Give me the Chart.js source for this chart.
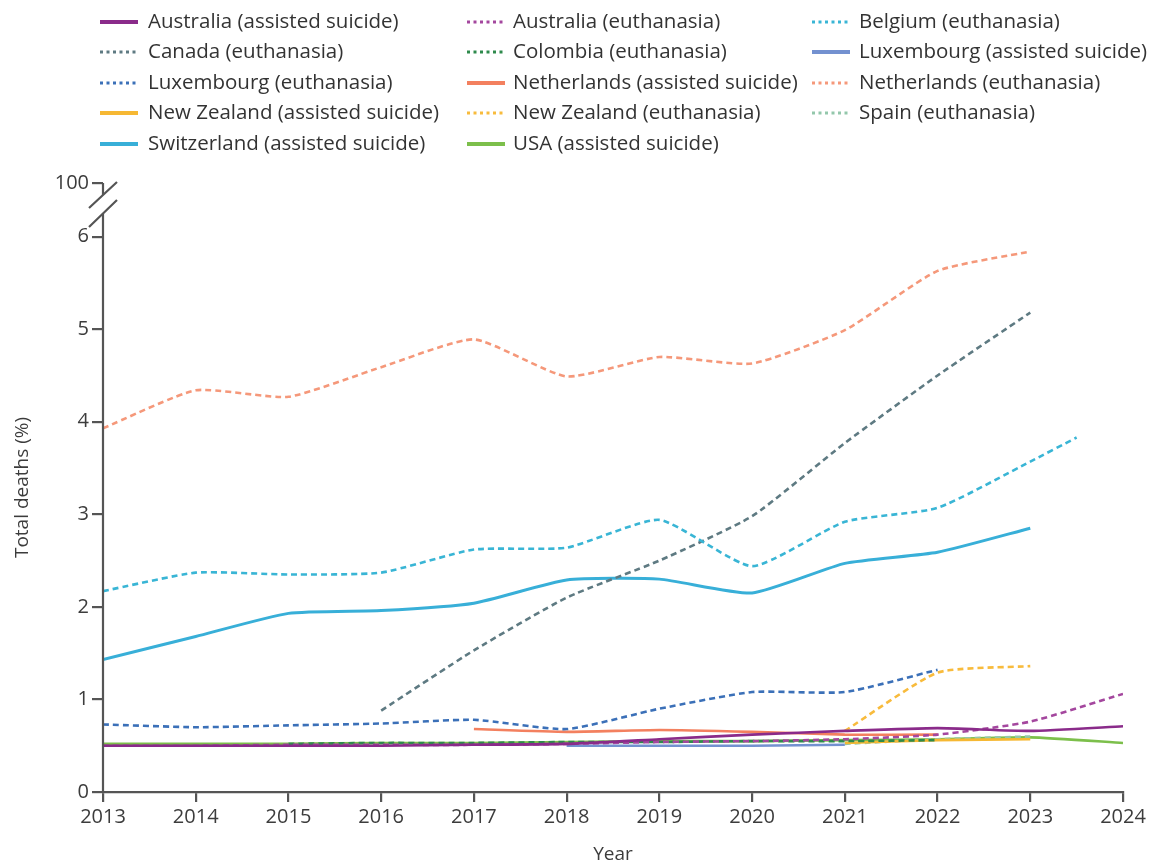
<!DOCTYPE html>
<html>
<head>
<meta charset="utf-8">
<script src="https://cdn.jsdelivr.net/npm/chart.js@4/dist/chart.umd.min.js"></script>
<style>
  html, body { margin: 0; padding: 0; background: #fff; }
  #wrap { width: 1152px; height: 863px; position: relative; }
</style>
</head>
<body>
<div id="wrap"><canvas id="chart"></canvas></div>
<script>
// Share of total deaths by assisted dying, by country and type (%)
const years = [2013, 2014, 2015, 2016, 2017, 2018, 2019, 2020, 2021, 2022, 2023, 2024];

const australiaAssisted = [0.50, 0.50, 0.50, 0.50, 0.51, 0.52, 0.57, 0.62, 0.66, 0.69, 0.66, 0.71];
const australiaEuthanasia = [0.50, 0.50, 0.51, 0.51, 0.51, 0.52, 0.54, 0.55, 0.57, 0.62, 0.76, 1.06];
const belgiumEuthanasia = [2.17, 2.37, 2.35, 2.37, 2.62, 2.64, 2.94, 2.44, 2.92, 3.07, 3.57, null];
const belgiumLatest = { year: 2023.5, value: 3.83 };
const canadaEuthanasia = [null, null, null, 0.88, 1.53, 2.10, 2.50, 2.98, 3.77, 4.50, 5.18, null];
const colombiaEuthanasia = [null, null, 0.52, 0.53, 0.53, 0.54, 0.54, 0.55, 0.55, 0.56, null, null];
const luxembourgAssisted = [null, null, null, null, null, 0.50, 0.50, 0.50, 0.51, null, null, null];
const luxembourgEuthanasia = [0.73, 0.70, 0.72, 0.74, 0.78, 0.68, 0.90, 1.08, 1.08, 1.32, null, null];
const netherlandsAssisted = [null, null, null, null, 0.68, 0.65, 0.67, 0.65, 0.62, 0.62, null, null];
const netherlandsEuthanasia = [3.93, 4.34, 4.27, 4.59, 4.89, 4.49, 4.70, 4.63, 4.99, 5.63, 5.84, null];
const newZealandAssisted = [null, null, null, null, null, null, null, null, 0.53, 0.56, 0.57, null];
const newZealandEuthanasia = [null, null, null, null, null, null, null, null, 0.66, 1.29, 1.36, null];
const spainEuthanasia = [null, null, null, null, null, null, null, null, 0.52, 0.57, 0.60, null];
const switzerlandAssisted = [1.43, 1.68, 1.93, 1.96, 2.04, 2.29, 2.30, 2.15, 2.47, 2.59, 2.85, null];
const usaAssisted = [0.52, 0.52, 0.52, 0.53, 0.53, 0.54, 0.55, 0.55, 0.56, 0.57, 0.59, 0.53];

const yTicks = [0, 1, 2, 3, 4, 5, 6];
const yBreakTick = 6.58;      // position on the axis standing for 100%
const yBreakLabel = '100';

function points(values) {
  return years.map((y, i) => ({ x: y, y: values[i] })).filter(p => p.y !== null);
}

const FONT = "'Open Sans', 'Liberation Sans', sans-serif";
const DASH = [6, 4];

function series(label, values, color, dashed, width) {
  return {
    label,
    data: values,
    borderColor: color,
    backgroundColor: color,
    borderWidth: width || 2.6,
    borderDash: dashed ? DASH : [],
    pointRadius: 0,
    pointHoverRadius: 0,
    tension: 0.18,
    fill: false,
    spanGaps: false
  };
}

const datasets = [
  series('Australia (assisted suicide)', points(australiaAssisted), '#8a2b8a', false),
  series('Australia (euthanasia)', points(australiaEuthanasia), '#a4479e', true),
  series('Belgium (euthanasia)', points(belgiumEuthanasia).concat([{ x: belgiumLatest.year, y: belgiumLatest.value }]), '#39b5d5', true),
  series('Canada (euthanasia)', points(canadaEuthanasia), '#5e7a82', true),
  series('Colombia (euthanasia)', points(colombiaEuthanasia), '#2e8a4c', true),
  series('Luxembourg (assisted suicide)', points(luxembourgAssisted), '#7391d0', false),
  series('Luxembourg (euthanasia)', points(luxembourgEuthanasia), '#3b70b8', true),
  series('Netherlands (assisted suicide)', points(netherlandsAssisted), '#f3805f', false),
  series('Netherlands (euthanasia)', points(netherlandsEuthanasia), '#f5987a', true),
  series('New Zealand (assisted suicide)', points(newZealandAssisted), '#f6b833', false),
  series('New Zealand (euthanasia)', points(newZealandEuthanasia), '#f8bb3c', true),
  series('Spain (euthanasia)', points(spainEuthanasia), '#93c7ab', true),
  series('Switzerland (assisted suicide)', points(switzerlandAssisted), '#38afd8', false, 3),
  series('USA (assisted suicide)', points(usaAssisted), '#7cbf4b', false)
];

// Three-column legend drawn above the plot
const gridLegend = {
  id: 'gridLegend',
  afterDraw(chart) {
    const ctx = chart.ctx;
    const sampleX = [100, 467, 812];
    const textX = [148, 513, 859];
    const rowY = [22, 52, 83, 113, 144];
    ctx.save();
    ctx.font = "20.5px " + FONT;
    ctx.textBaseline = 'middle';
    ctx.textAlign = 'left';
    chart.data.datasets.forEach((ds, i) => {
      const col = i % 3, row = Math.floor(i / 3);
      const y = rowY[row];
      ctx.strokeStyle = ds.borderColor;
      if (ds.borderDash && ds.borderDash.length) {
        ctx.lineWidth = 3;
        ctx.setLineDash([3, 3.5]);
      } else {
        ctx.lineWidth = 4;
        ctx.setLineDash([]);
      }
      ctx.beginPath();
      ctx.moveTo(sampleX[col], y);
      ctx.lineTo(sampleX[col] + 38, y);
      ctx.stroke();
      ctx.setLineDash([]);
      ctx.fillStyle = '#333';
      ctx.fillText(ds.label, textX[col], y);
    });
    ctx.restore();
  }
};

// Broken y axis: line up to the break, two slashes, short stub at 100
const brokenAxis = {
  id: 'brokenAxis',
  afterDraw(chart) {
    const ctx = chart.ctx;
    const ys = chart.scales.y;
    const x0 = chart.chartArea.left;
    const yTop = ys.getPixelForValue(yBreakTick);
    const y0 = ys.getPixelForValue(0);
    ctx.save();
    ctx.strokeStyle = '#555';
    ctx.lineWidth = 2.2;
    ctx.lineCap = 'butt';
    ctx.beginPath();
    ctx.moveTo(x0, y0 + 1);
    ctx.lineTo(x0, yTop + 31);
    ctx.moveTo(x0, yTop);
    ctx.lineTo(x0, yTop + 12);
    ctx.stroke();
    // slashes
    ctx.beginPath();
    ctx.moveTo(x0 - 14, yTop + 44);
    ctx.lineTo(x0 + 14, yTop + 17);
    ctx.moveTo(x0 - 14, yTop + 25);
    ctx.lineTo(x0 + 14, yTop - 1);
    ctx.stroke();
    ctx.restore();
  }
};

new Chart(document.getElementById('chart'), {
  type: 'line',
  data: { datasets },
  plugins: [gridLegend, brokenAxis],
  options: {
    responsive: true,
    maintainAspectRatio: false,
    animation: false,
    layout: { padding: { top: 183, right: 29, left: 0, bottom: 0 } },
    plugins: {
      legend: { display: false },
      tooltip: { enabled: false }
    },
    scales: {
      x: {
        type: 'linear',
        min: 2013,
        max: 2024,
        afterFit(scale) { scale.height = 71; },
        afterBuildTicks(scale) { scale.ticks = years.map(v => ({ value: v })); },
        ticks: {
          color: '#3c3c3c',
          font: { family: FONT, size: 20 },
          padding: 3,
          maxRotation: 0,
          autoSkip: false,
          callback: v => String(v)
        },
        grid: {
          display: true,
          drawOnChartArea: false,
          drawTicks: true,
          tickLength: 10,
          color: '#555',
          lineWidth: 2.2
        },
        border: { display: true, color: '#555', width: 2.2 },
        title: {
          display: true,
          text: 'Year',
          color: '#3c3c3c',
          font: { family: FONT, size: 19, lineHeight: 1.0 },
          padding: { top: 0, bottom: -1 }
        }
      },
      y: {
        type: 'linear',
        min: 0,
        max: yBreakTick,
        afterFit(scale) { scale.width = 103; },
        afterBuildTicks(scale) {
          scale.ticks = yTicks.map(v => ({ value: v })).concat([{ value: yBreakTick }]);
        },
        ticks: {
          color: '#3c3c3c',
          font: { family: FONT, size: 20 },
          padding: 3,
          autoSkip: false,
          callback: v => (v === yBreakTick ? yBreakLabel : String(v))
        },
        grid: {
          display: true,
          drawOnChartArea: false,
          drawTicks: true,
          tickLength: 11,
          color: '#555',
          lineWidth: 2.2
        },
        border: { display: false },
        title: {
          display: true,
          text: 'Total deaths (%)',
          color: '#3c3c3c',
          font: { family: FONT, size: 19, lineHeight: 1.2 },
          padding: { top: 11, bottom: 0 }
        }
      }
    }
  }
});
</script>
</body>
</html>
